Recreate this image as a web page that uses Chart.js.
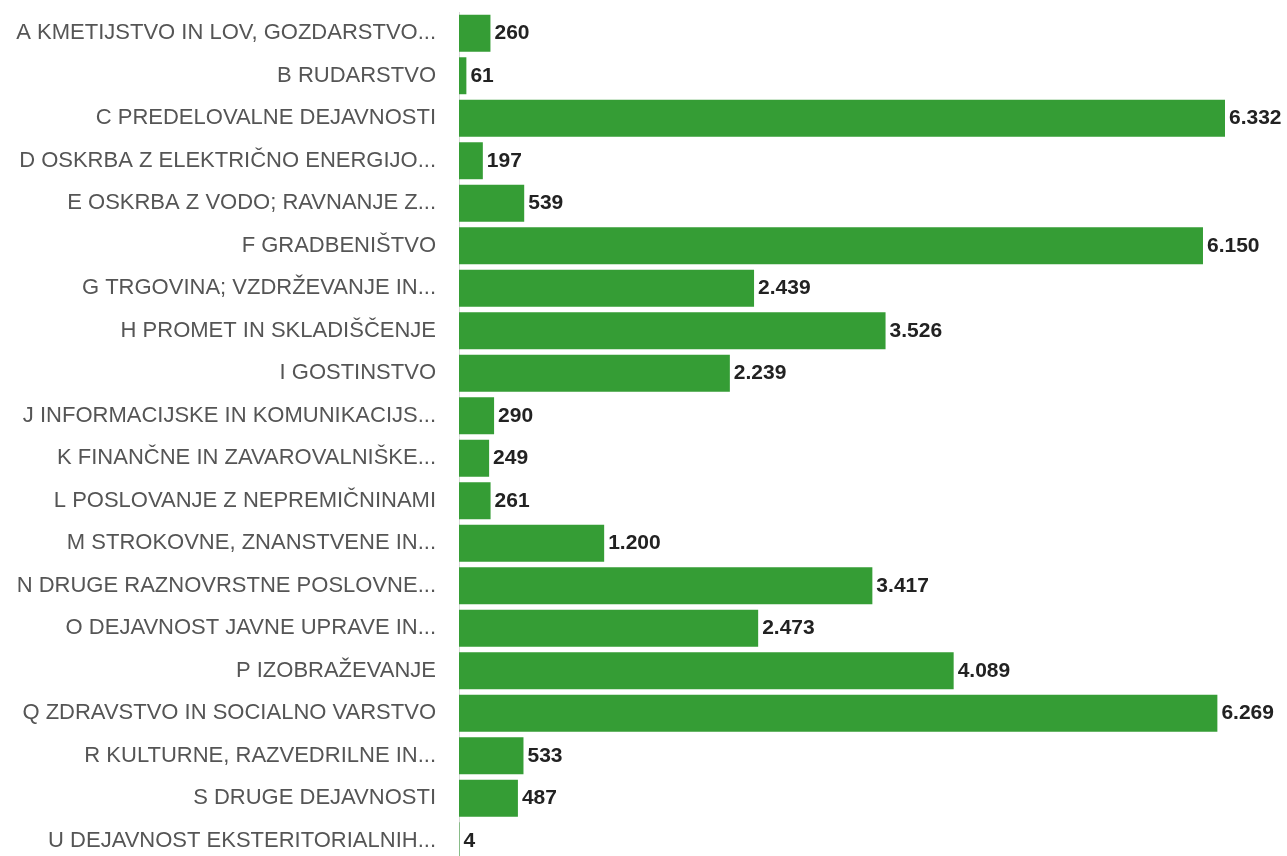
<!DOCTYPE html>
<html>
<head>
<meta charset="utf-8">
<script src="https://cdn.jsdelivr.net/npm/chart.js@4.4.0/dist/chart.umd.min.js"></script>
<style>
    html, body { margin: 0; padding: 0; background: #fff; overflow: hidden; }
</style>
</head>
<body>
<canvas id="chart" width="1287" height="872"></canvas>
<script>
const categories = [
    "A KMETIJSTVO IN LOV, GOZDARSTVO...",
    "B RUDARSTVO",
    "C PREDELOVALNE DEJAVNOSTI",
    "D OSKRBA Z ELEKTRIČNO ENERGIJO...",
    "E OSKRBA Z VODO; RAVNANJE Z...",
    "F GRADBENIŠTVO",
    "G TRGOVINA; VZDRŽEVANJE IN...",
    "H PROMET IN SKLADIŠČENJE",
    "I GOSTINSTVO",
    "J INFORMACIJSKE IN KOMUNIKACIJS...",
    "K FINANČNE IN ZAVAROVALNIŠKE...",
    "L POSLOVANJE Z NEPREMIČNINAMI",
    "M STROKOVNE, ZNANSTVENE IN...",
    "N DRUGE RAZNOVRSTNE POSLOVNE...",
    "O DEJAVNOST JAVNE UPRAVE IN...",
    "P IZOBRAŽEVANJE",
    "Q ZDRAVSTVO IN SOCIALNO VARSTVO",
    "R KULTURNE, RAZVEDRILNE IN...",
    "S DRUGE DEJAVNOSTI",
    "U DEJAVNOST EKSTERITORIALNIH..."
];
const values = [260, 61, 6332, 197, 539, 6150, 2439, 3526, 2239, 290, 249, 261, 1200, 3417, 2473, 4089, 6269, 533, 487, 4];

function formatNumber(n) {
    return String(n).replace(/\B(?=(\d{3})+(?!\d))/g, ".");
}

// draw value labels right after each bar
const valueLabels = {
    id: "valueLabels",
    afterDatasetsDraw(chart) {
        const ctx = chart.ctx;
        const meta = chart.getDatasetMeta(0);
        ctx.save();
        ctx.font = "bold 21px 'Liberation Sans', Arial, sans-serif";
        ctx.fillStyle = "#222";
        ctx.textAlign = "left";
        ctx.textBaseline = "middle";
        meta.data.forEach((bar, i) => {
            ctx.fillText(formatNumber(values[i]), bar.x + 4, bar.y);
        });
        ctx.restore();
    }
};

new Chart(document.getElementById("chart"), {
    type: "bar",
    data: {
        labels: categories,
        datasets: [{
            data: values,
            backgroundColor: "#359d35",
            borderWidth: 0,
            barPercentage: 0.87,
            categoryPercentage: 1
        }]
    },
    options: {
        indexAxis: "y",
        responsive: false,
        animation: false,
        layout: { padding: { top: 12, right: 62, bottom: 10, left: 0 } },
        plugins: {
            legend: { display: false },
            tooltip: { enabled: false }
        },
        scales: {
            x: {
                display: false,
                min: 0,
                max: 6332
            },
            y: {
                afterFit: (axis) => {
                    axis.width = 459;
                    axis.paddingTop = 0;
                    axis.paddingBottom = 0;
                },
                grid: { display: false, drawTicks: false },
                border: { display: true, color: "#d8d8d8", width: 1 },
                ticks: {
                    padding: 23,
                    color: "#555",
                    font: { family: "'Liberation Sans', Arial, sans-serif", size: 22 }
                }
            }
        }
    },
    plugins: [valueLabels]
});
</script>
</body>
</html>
